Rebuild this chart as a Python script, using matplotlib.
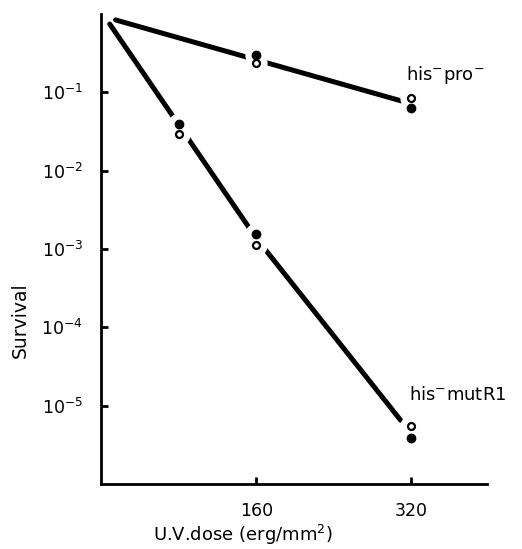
import matplotlib
matplotlib.use("Agg")
import matplotlib.pyplot as plt
from matplotlib.ticker import FixedLocator, NullLocator, FixedFormatter

# --- data ---
# his- pro- (measured points at 160 and 320)
pro_dose = [160, 320]
pro_filled = [0.30, 0.063]
pro_open = [0.24, 0.085]
# his- mutR1
mut_dose = [80, 160, 320]
mut_filled = [0.039, 0.00155, 3.9e-6]
mut_open = [0.029, 0.00112, 5.5e-6]
# drawn regression lines (knots)
pro_line_dose = [15, 314]
pro_line_surv = [0.84, 0.075]
mut_line_dose = [9, 160, 309]
mut_line_surv = [0.745, 0.00138, 6.5e-6]

xticks = [160, 320]
xticklabels = ["160", "320"]
yticks = [1e-1, 1e-2, 1e-3, 1e-4, 1e-5]
yticklabels = [r"$10^{-1}$", r"$10^{-2}$", r"$10^{-3}$", r"$10^{-4}$", r"$10^{-5}$"]

plt.rcParams['font.family'] = ['DejaVu Sans']
fig = plt.figure(figsize=(5.22, 5.49), dpi=100)
ax = fig.add_axes([0.1935, 0.1184, 0.7395, 0.8561])
ax.set_yscale('log')
ax.set_xlim(0, 398)
ax.set_ylim(1e-6, 1)

lw = 3.6
ax.plot(pro_line_dose, pro_line_surv, color='black', lw=lw, solid_capstyle='round', zorder=2)
ax.plot(mut_line_dose, mut_line_surv, color='black', lw=lw, solid_capstyle='round', zorder=2)

# white halos to break the lines around the points
for d, f, o in [(pro_dose, pro_filled, pro_open), (mut_dose, mut_filled, mut_open)]:
    ax.plot(d, f, 'o', ms=15, color='white', mec='white', zorder=3, ls='none')
    ax.plot(d, o, 'o', ms=15, color='white', mec='white', zorder=3, ls='none')
    ax.plot(d, f, 'o', ms=6.0, color='black', mec='black', zorder=4, ls='none')
    ax.plot(d, o, 'o', ms=5.0, mfc='white', mec='black', mew=1.6, zorder=4, ls='none')

ax.text(314, 0.166, r"his$^{-}$pro$^{-}$", fontsize=13, ha='left', va='center')
ax.text(318, 1.35e-5, r"his$^{-}$mutR1", fontsize=13, ha='left', va='center')

for s in ['top', 'right']:
    ax.spines[s].set_visible(False)
for s in ['left', 'bottom']:
    ax.spines[s].set_linewidth(2.0)

ax.xaxis.set_major_locator(FixedLocator(xticks))
ax.xaxis.set_major_formatter(FixedFormatter(xticklabels))
ax.xaxis.set_minor_locator(NullLocator())
ax.yaxis.set_major_locator(FixedLocator(yticks))
ax.yaxis.set_major_formatter(FixedFormatter(yticklabels))
ax.yaxis.set_minor_locator(NullLocator())
ax.tick_params(axis='both', direction='in', length=5, width=2, labelsize=12.5, pad=13)

ax.set_xlabel(r"U.V.dose (erg/mm$^{2}$)", fontsize=13)
ax.xaxis.set_label_coords(0.368, -0.108)
ax.xaxis.label.set_va('center')
ax.set_ylabel("Survival", fontsize=13.5)
ax.yaxis.set_label_coords(-0.21, 0.349)
ax.yaxis.label.set_va('center')

fig.savefig("out.png", dpi=100)
